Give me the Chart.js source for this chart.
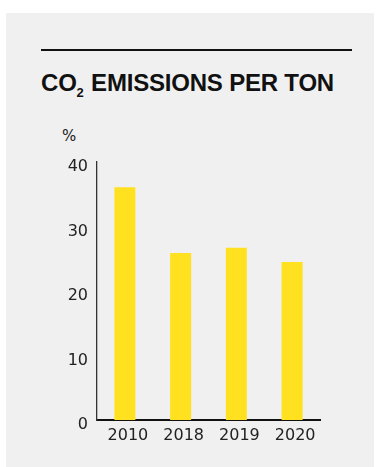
<!DOCTYPE html>
<html>
<head>
<meta charset="utf-8">
<script src="https://cdn.jsdelivr.net/npm/chart.js@4/dist/chart.umd.min.js"></script>
<style>
  html, body { margin: 0; padding: 0; background: #ffffff; }
  body { width: 378px; height: 467px; position: relative; overflow: hidden; }
  .panel { position: absolute; left: 6px; top: 13px; width: 368px; height: 454px; background: #f0f0f0; }
  .rule { position: absolute; left: 41px; top: 49px; width: 311px; height: 2px; background: #111; }
  .title {
    position: absolute; left: 41px; top: 71px; margin: 0;
    font-family: "Liberation Sans", Arial, sans-serif; font-weight: bold;
    font-size: 24px; line-height: 24px; color: #111; white-space: nowrap;
    letter-spacing: -0.2px;
  }
  .title .sub { font-size: 13px; position: relative; top: 6px; margin-right: 1px; }
  .unit {
    position: absolute; left: 62px; top: 127px;
    font-family: "DejaVu Sans", sans-serif; font-size: 15px; color: #222;
  }
  #chart { position: absolute; left: 0; top: 0; }
</style>
</head>
<body>
<div class="panel"></div>
<div class="rule"></div>
<h1 class="title">CO<span class="sub">2</span> EMISSIONS PER TON</h1>
<div class="unit">%</div>
<canvas id="chart" width="378" height="467"></canvas>
<script>
// Emissions per ton, percent
const years = ['2010', '2018', '2019', '2020'];
const emissions = [36.1, 25.9, 26.7, 24.5];
const yTicks = [0, 10, 20, 30, 40];

const tickFont = { family: '"DejaVu Sans", sans-serif', size: 16 };

new Chart(document.getElementById('chart'), {
  type: 'bar',
  data: {
    labels: years,
    datasets: [{
      data: emissions,
      backgroundColor: '#ffe11f',
      borderWidth: 0,
      categoryPercentage: 1,
      barPercentage: 0.377
    }]
  },
  options: {
    responsive: false,
    animation: false,
    layout: { padding: { left: 0, right: 58, top: 162, bottom: 0 } },
    plugins: { legend: { display: false }, tooltip: { enabled: false } },
    scales: {
      x: {
        grid: { display: false, drawTicks: false },
        border: { display: true, color: '#111', width: 2 },
        ticks: { color: '#222', font: tickFont, padding: 6, labelOffset: 3 },
        afterFit: (s) => { s.height = 47; }
      },
      y: {
        min: yTicks[0],
        max: yTicks[yTicks.length - 1],
        afterBuildTicks: (s) => { s.ticks = yTicks.map(v => ({ value: v })); },
        grid: { display: false, drawTicks: false },
        border: { display: true, color: '#333', width: 1.3 },
        ticks: { color: '#222', font: tickFont, padding: 9, labelOffset: 5 },
        afterFit: (s) => { s.width = 97; }
      }
    }
  }
});
</script>
</body>
</html>
